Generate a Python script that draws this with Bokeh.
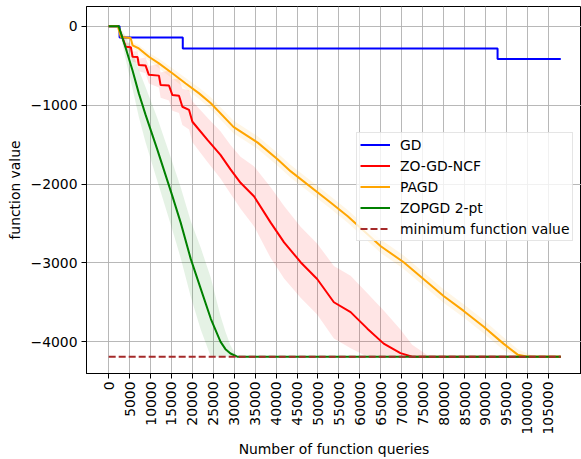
import numpy as np
from bokeh.plotting import figure
from bokeh.models import Range1d, FixedTicker, Legend, LegendItem
from bokeh.embed import file_html
from bokeh.resources import INLINE

# ---------------- data ----------------
x_tick_values = [0, 5000, 10000, 15000, 20000, 25000, 30000, 35000, 40000, 45000, 50000,
                 55000, 60000, 65000, 70000, 75000, 80000, 85000, 90000, 95000, 100000, 105000]
x_tick_labels = ["0", "5000", "10000", "15000", "20000", "25000", "30000", "35000", "40000",
                 "45000", "50000", "55000", "60000", "65000", "70000", "75000", "80000",
                 "85000", "90000", "95000", "100000", "105000"]
y_tick_values = [0, -1000, -2000, -3000, -4000]
y_tick_labels = ["0", "\u22121000", "\u22122000", "\u22123000", "\u22124000"]

min_value = -4190
min_x = [0, 108000]
min_y = [min_value, min_value]

gd_x = [0, 2600, 2600, 17700, 17700, 92900, 92900, 108000]
gd_y = [0, 0, -140, -140, -280, -280, -415, -415]

ncf_x = [0, 2300, 4100, 5300, 5700, 6900, 7200, 8800, 9600, 12000, 12400, 14400, 15200,
         16800, 17600, 19200, 20000, 23600, 26700, 29100, 31500, 34700, 38700, 41900, 45900,
         49800, 53800, 57800, 61800, 65700, 69700, 72500, 76700, 108000]
ncf_y = [0, 0, -260, -265, -385, -390, -490, -495, -615, -625, -745, -750, -870,
         -880, -1020, -1060, -1210, -1440, -1630, -1815, -1985, -2155, -2490, -2740, -2995,
         -3205, -3500, -3625, -3835, -4025, -4145, -4190, -4190, -4190]
ncf_std = [0, 0, 50, 60, 65, 75, 80, 100, 110, 150, 160, 190, 200,
           220, 230, 250, 260, 280, 300, 310, 330, 380, 450, 460, 450,
           450, 460, 460, 450, 420, 300, 150, 0, 0]

pagd_x = [0, 2200, 2900, 5250, 5700, 7200, 9600, 12000, 15200, 18400, 21600, 24400, 29800,
          35600, 40400, 43500, 53000, 57100, 65000, 70400, 75200, 80000, 84800, 89600, 94300,
          97700, 100100, 101500, 108000]
pagd_y = [0, 0, -135, -148, -240, -280, -385, -470, -595, -725, -850, -975, -1275,
          -1475, -1690, -1840, -2235, -2410, -2790, -2990, -3205, -3420, -3610, -3810, -4025,
          -4165, -4190, -4190, -4190]
pagd_std = [0, 0, 20, 30, 40, 45, 50, 60, 65, 70, 70, 75, 80,
            80, 80, 80, 80, 80, 85, 85, 85, 85, 85, 85, 80,
            70, 40, 0, 0]

zopgd_x = [0, 2400, 4100, 5700, 7200, 8800, 11600, 15200, 17200, 19600, 22000, 24400, 26700,
           27900, 29100, 30700, 108000]
zopgd_y = [0, 0, -280, -560, -850, -1120, -1560, -2150, -2490, -2950, -3330, -3710, -4000,
           -4095, -4150, -4190, -4190]
zopgd_std = [0, 0, 150, 230, 300, 350, 400, 430, 450, 480, 520, 520, 330,
             220, 100, 0, 0]

FONT = "DejaVu Sans"
FS = "13.9px"

p = figure(width=581, height=459, output_backend="svg", toolbar_location=None,
           x_range=Range1d(-5300, 112950), y_range=Range1d(-4404, 252),
           min_border_left=86, min_border_right=0, min_border_top=6, min_border_bottom=84,
           background_fill_color="white", border_fill_color="white")

# bands
def band(xs, ys, sd, color):
    ys = np.array(ys, dtype=float)
    sd = np.array(sd, dtype=float)
    lower = np.maximum(ys - sd, min_value)
    upper = ys + sd
    p.varea(x=xs, y1=lower, y2=upper, fill_color=color, fill_alpha=0.1)

band(ncf_x, ncf_y, ncf_std, "#ff0000")
band(pagd_x, pagd_y, pagd_std, "#ffa500")
band(zopgd_x, zopgd_y, zopgd_std, "#008000")

LW = 2
r_gd = p.line(gd_x, gd_y, line_color="#0000ff", line_width=LW)
r_ncf = p.line(ncf_x, ncf_y, line_color="#ff0000", line_width=LW)
r_pagd = p.line(pagd_x, pagd_y, line_color="#ffa500", line_width=LW)
r_zo = p.line(zopgd_x, zopgd_y, line_color="#008000", line_width=LW)
r_min = p.line(min_x, min_y, line_color="#a52a2a", line_width=LW, line_dash="7 3")

# axes
p.xaxis.ticker = FixedTicker(ticks=x_tick_values)
p.xaxis.major_label_overrides = {v: l for v, l in zip(x_tick_values, x_tick_labels)}
p.yaxis.ticker = FixedTicker(ticks=y_tick_values)
p.yaxis.major_label_overrides = {v: l for v, l in zip(y_tick_values, y_tick_labels)}
p.xaxis.major_label_orientation = np.pi / 2
p.xaxis.axis_label = "Number of function queries"
p.yaxis.axis_label = "function value"
for ax in (p.xaxis, p.yaxis):
    ax.axis_label_text_font = FONT
    ax.axis_label_text_font_size = FS
    ax.axis_label_text_font_style = "normal"
    ax.axis_label_text_color = "black"
    ax.major_label_text_font = FONT
    ax.major_label_text_font_size = FS
    ax.major_label_text_color = "black"
    ax.axis_line_color = "black"
    ax.major_tick_line_color = "black"
    ax.major_tick_out = 5
    ax.major_tick_in = 0
    ax.minor_tick_line_color = None
p.xaxis.major_label_standoff = 3
p.xaxis.axis_label_standoff = 3
p.yaxis.major_label_standoff = 4
p.yaxis.axis_label_standoff = 5

p.grid.grid_line_color = "#b0b0b0"
p.grid.grid_line_width = 1
p.grid.grid_line_alpha = 0.9
p.outline_line_color = "black"
p.outline_line_width = 1

legend = Legend(items=[
    LegendItem(label="GD", renderers=[r_gd]),
    LegendItem(label="ZO-GD-NCF", renderers=[r_ncf]),
    LegendItem(label="PAGD", renderers=[r_pagd]),
    LegendItem(label="ZOPGD 2-pt", renderers=[r_zo]),
    LegendItem(label="minimum function value", renderers=[r_min]),
], location=(270, 132))
legend.margin = 0
legend.padding = 3
legend.spacing = 4
legend.glyph_width = 30
legend.glyph_height = 17
legend.label_height = 17
legend.label_standoff = 10
legend.label_text_font = FONT
legend.label_text_font_size = FS
legend.label_text_color = "black"
legend.border_line_color = "#cccccc"
legend.border_line_width = 1
legend.background_fill_color = "white"
legend.background_fill_alpha = 0.8
p.add_layout(legend)

open("out.html", "w").write(file_html(p, INLINE))
